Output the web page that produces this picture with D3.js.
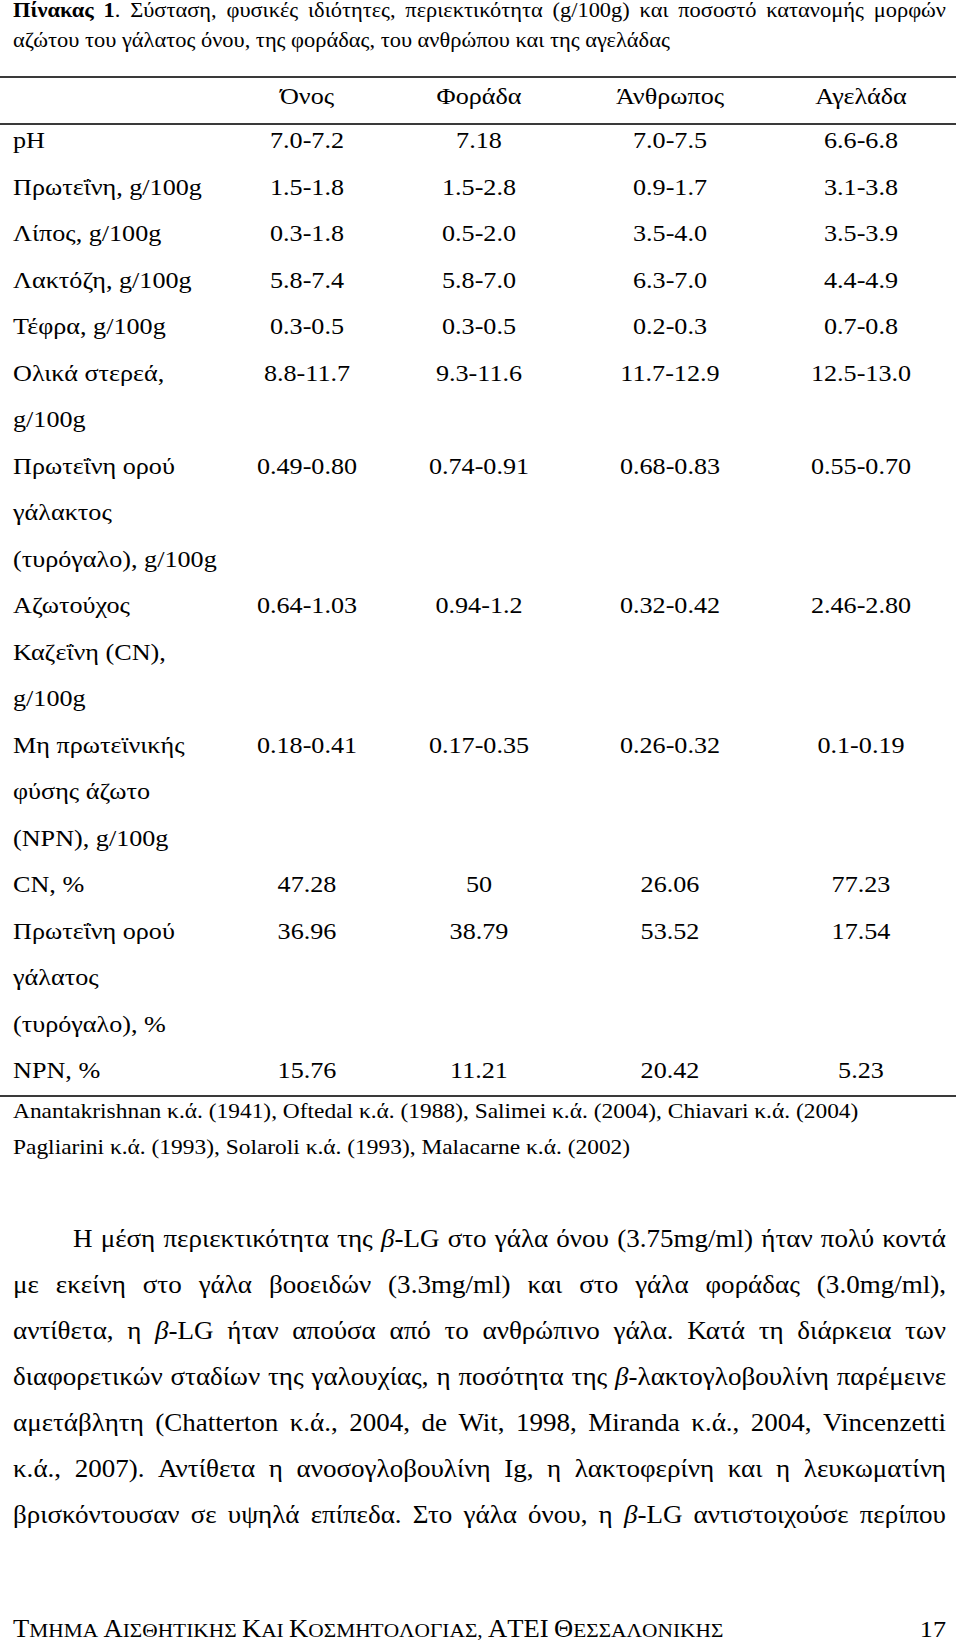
<!DOCTYPE html>
<html><head><meta charset="utf-8">
<script src="https://cdn.jsdelivr.net/npm/d3@7"></script>
<style>body{margin:0;background:#fff}svg{display:block}</style>
</head><body>
<script>
// ---- data ----
const columns = ["Όνος", "Φοράδα", "Άνθρωπος", "Αγελάδα"];
const rowLabels = [
  ["pH"],
  ["Πρωτεΐνη, g/100g"],
  ["Λίπος, g/100g"],
  ["Λακτόζη, g/100g"],
  ["Τέφρα, g/100g"],
  ["Ολικά στερεά,", "g/100g"],
  ["Πρωτεΐνη ορού", "γάλακτος", "(τυρόγαλο), g/100g"],
  ["Αζωτούχος", "Καζεΐνη (CN),", "g/100g"],
  ["Μη πρωτεϊνικής", "φύσης άζωτο", "(NPN), g/100g"],
  ["CN, %"],
  ["Πρωτεΐνη ορού", "γάλατος", "(τυρόγαλο), %"],
  ["NPN, %"]
];
const donkey = ["7.0-7.2", "1.5-1.8", "0.3-1.8", "5.8-7.4", "0.3-0.5", "8.8-11.7", "0.49-0.80", "0.64-1.03", "0.18-0.41", "47.28", "36.96", "15.76"];
const mare   = ["7.18", "1.5-2.8", "0.5-2.0", "5.8-7.0", "0.3-0.5", "9.3-11.6", "0.74-0.91", "0.94-1.2", "0.17-0.35", "50", "38.79", "11.21"];
const human  = ["7.0-7.5", "0.9-1.7", "3.5-4.0", "6.3-7.0", "0.2-0.3", "11.7-12.9", "0.68-0.83", "0.32-0.42", "0.26-0.32", "26.06", "53.52", "20.42"];
const cow    = ["6.6-6.8", "3.1-3.8", "3.5-3.9", "4.4-4.9", "0.7-0.8", "12.5-13.0", "0.55-0.70", "2.46-2.80", "0.1-0.19", "77.23", "17.54", "5.23"];
const seriesValues = [donkey, mare, human, cow];

const titleLine1 = "**Πίνακας** **1**. Σύσταση, φυσικές ιδιότητες, περιεκτικότητα (g/100g) και ποσοστό κατανομής μορφών";
const titleLine2 = "αζώτου του γάλατος όνου, της φοράδας, του ανθρώπου και της αγελάδας";
const references = [
  "Anantakrishnan κ.ά. (1941), Oftedal κ.ά. (1988), Salimei κ.ά. (2004), Chiavari κ.ά. (2004)",
  "Pagliarini κ.ά. (1993), Solaroli κ.ά. (1993), Malacarne κ.ά. (2002)"
];
const paragraph = [
  "Η μέση περιεκτικότητα της *β*-LG στο γάλα όνου (3.75mg/ml) ήταν πολύ κοντά",
  "με εκείνη στο γάλα βοοειδών (3.3mg/ml) και στο γάλα φοράδας (3.0mg/ml),",
  "αντίθετα, η *β*-LG ήταν απούσα από το ανθρώπινο γάλα. Κατά τη διάρκεια των",
  "διαφορετικών σταδίων της γαλουχίας, η ποσότητα της *β*-λακτογλοβουλίνη παρέμεινε",
  "αμετάβλητη (Chatterton κ.ά., 2004, de Wit, 1998, Miranda κ.ά., 2004, Vincenzetti",
  "κ.ά., 2007). Αντίθετα η ανοσογλοβουλίνη Ig, η λακτοφερίνη και η λευκωματίνη",
  "βρισκόντουσαν σε υψηλά επίπεδα. Στο γάλα όνου, η *β*-LG αντιστοιχούσε περίπου"
];
const footerText = "Τμημα Αισθητικης Και Κοσμητολογιας, ΑΤΕΙ Θεσσαλονικης";
const pageNumber = "17";

// ---- layout ----
const W = 960, H = 1644;
const SX = 1.09;           // horizontal stretch of the scanned glyphs
const FS = 24, FS_T = 20.6, FS_REF = 21.5, FS_P = 24.8, FS_SC = 19.6, FS_FC = 24.4;
const left = 13, right = 946;

const svg = d3.select("body").append("svg")
  .attr("width", W).attr("height", H)
  .style("font-family", "'Liberation Serif','Times New Roman',serif")
  .attr("fill", "#000");

function parse(str) {
  const segs = []; const re = /\*\*(.+?)\*\*|\*(.+?)\*|([^*]+)/g; let m;
  while ((m = re.exec(str))) {
    if (m[1]) segs.push({ t: m[1], b: true });
    else if (m[2]) segs.push({ t: m[2], i: true });
    else segs.push({ t: m[3] });
  }
  return segs;
}
function drawText(g, str, x, y, size, anchor) {
  const t = g.append("text")
    .attr("transform", `translate(${x},${y}) scale(${SX},1)`)
    .attr("font-size", size)
    .attr("text-anchor", anchor || "start");
  parse(str).forEach(s => {
    t.append("tspan").text(s.t)
      .attr("font-weight", s.b ? "bold" : null)
      .attr("font-style", s.i ? "italic" : null);
  });
  return t;
}
function justify(g, str, x0, x1, y, size) {
  const words = str.split(" ");
  const nodes = words.map(w => drawText(g, w, 0, y, size));
  const widths = nodes.map(n => n.node().getComputedTextLength() * SX);
  const gap = Math.max(2, (x1 - x0 - d3.sum(widths)) / (words.length - 1));
  let x = x0;
  nodes.forEach((n, i) => {
    n.attr("transform", `translate(${x},${y}) scale(${SX},1)`);
    x += widths[i] + gap;
  });
}

// title
const gTitle = svg.append("g");
justify(gTitle, titleLine1, left, right, 17, FS_T);
drawText(gTitle, titleLine2, left, 47, FS_T);

// rules
const rules = [77, 124, 1096];
svg.append("g").selectAll("line").data(rules).join("line")
  .attr("x1", 0).attr("x2", 956).attr("y1", d => d).attr("y2", d => d)
  .attr("stroke", "#3a3a3a").attr("stroke-width", 2);

// scales
const x = d3.scaleOrdinal().domain(columns).range([307, 479, 670, 861]);
const lineY = d3.scaleLinear().domain([0, 20]).range([148, 1078]);

// header
const gHead = svg.append("g");
columns.forEach(c => drawText(gHead, c, x(c), 104, FS, "middle"));

// body rows
const gBody = svg.append("g");
let lineIdx = 0;
rowLabels.forEach((lines, r) => {
  lines.forEach((l, k) => drawText(gBody, l, left, lineY(lineIdx + k), FS));
  columns.forEach((c, ci) => drawText(gBody, seriesValues[ci][r], x(c), lineY(lineIdx), FS, "middle"));
  lineIdx += lines.length;
});

// references
const refY = d3.scaleLinear().domain([0, 1]).range([1118, 1154]);
const gRef = svg.append("g");
references.forEach((s, i) => drawText(gRef, s, left, refY(i), FS_REF));

// paragraph
const parY = d3.scaleLinear().domain([0, paragraph.length - 1]).range([1247, 1523]);
const gPar = svg.append("g");
paragraph.forEach((s, i) => justify(gPar, s, i === 0 ? 73 : left, right, parY(i), FS_P));

// footer (small caps)
const gFoot = svg.append("g");
const ft = gFoot.append("text")
  .attr("transform", `translate(${left},1637) scale(${SX},1)`);
footerText.split("").forEach(ch => {
  const up = ch.toUpperCase();
  const isCap = ch === up && ch !== "," && ch !== " ";
  ft.append("tspan").text(up).attr("font-size", isCap ? FS_FC : FS_SC);
});
drawText(gFoot, pageNumber, right, 1637, FS, "end");
</script>
</body></html>
